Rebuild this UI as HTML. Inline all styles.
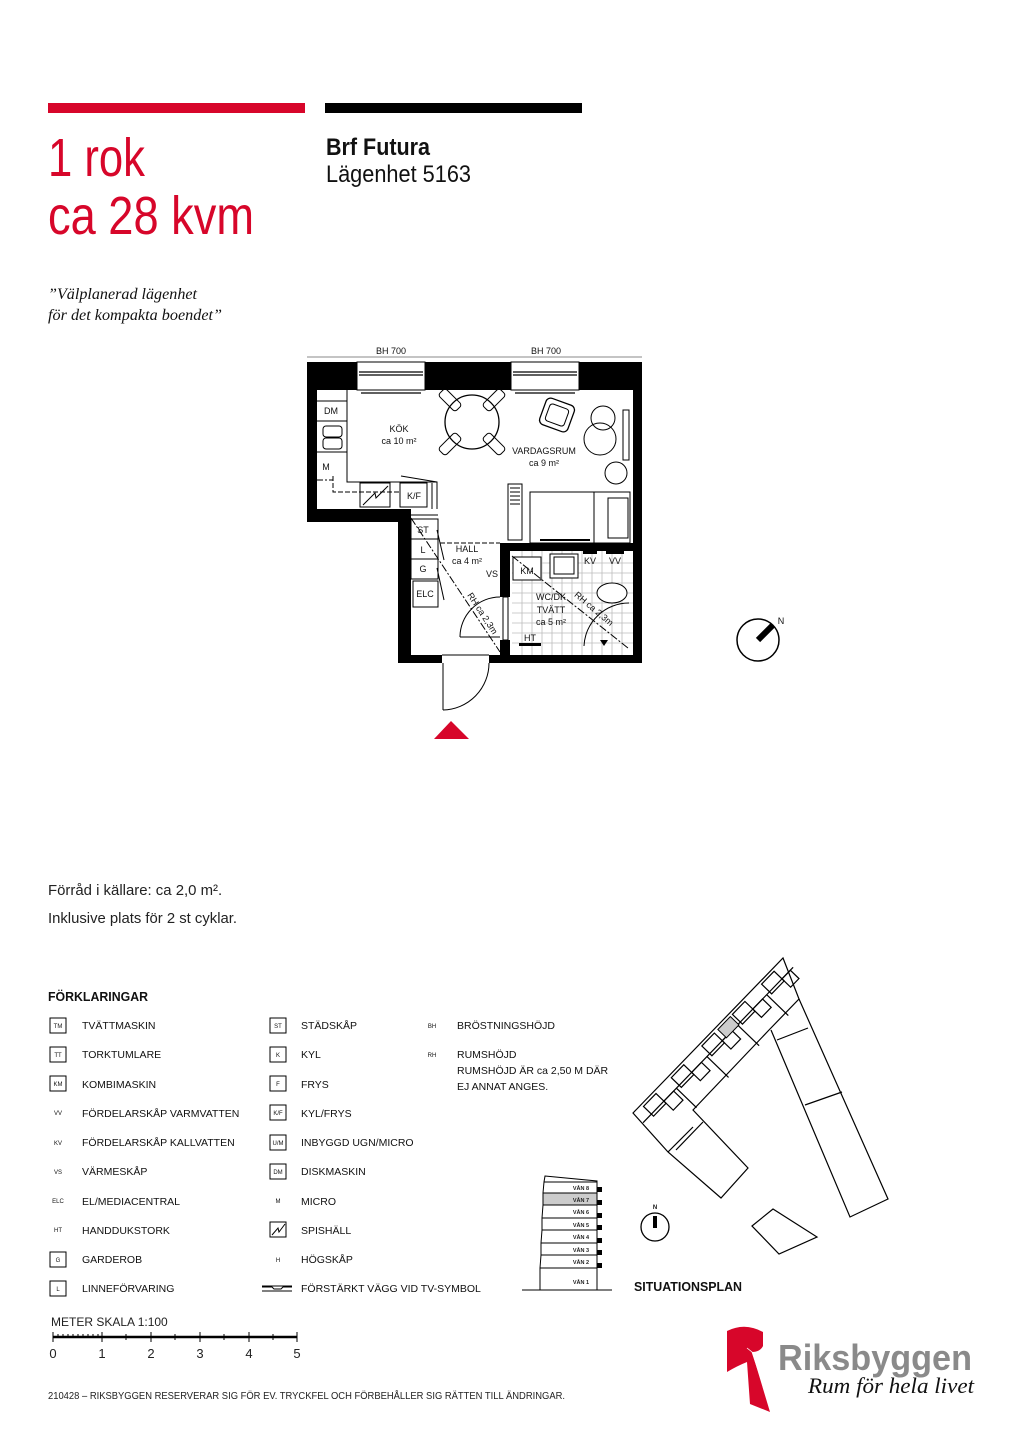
<!DOCTYPE html>
<html><head><meta charset="utf-8"><style>
html,body{margin:0;padding:0;background:#fff;}
svg{display:block;}
.t{font-family:"Liberation Sans",sans-serif;}
.s{font-family:"Liberation Sans",sans-serif;font-size:10.5px;fill:#111;}
.tiny{font-family:"Liberation Sans",sans-serif;font-size:6px;fill:#111;text-anchor:middle;}
.fp{font-family:"Liberation Sans",sans-serif;font-size:9px;fill:#111;text-anchor:middle;}
</style></head><body>
<svg width="1024" height="1448" viewBox="0 0 1024 1448" xmlns="http://www.w3.org/2000/svg">
<rect width="1024" height="1448" fill="#fff"/>
<rect x="48" y="103" width="257" height="10" fill="#d7062a"/>
<rect x="325" y="103" width="257" height="10" fill="#000"/>
<text x="48" y="176" class="t" font-size="54" fill="#d7062a" textLength="97" lengthAdjust="spacingAndGlyphs">1 rok</text>
<text x="48" y="234" class="t" font-size="54" fill="#d7062a" textLength="206" lengthAdjust="spacingAndGlyphs">ca 28 kvm</text>
<text x="326" y="155" class="t" font-size="24" font-weight="bold" fill="#111" textLength="104" lengthAdjust="spacingAndGlyphs">Brf Futura</text>
<text x="326" y="182" class="t" font-size="24" fill="#111" textLength="145" lengthAdjust="spacingAndGlyphs">Lägenhet 5163</text>
<text x="48" y="299" font-family="Liberation Serif,serif" font-style="italic" font-size="16" fill="#111" textLength="149" lengthAdjust="spacingAndGlyphs">”Välplanerad lägenhet</text>
<text x="48" y="320" font-family="Liberation Serif,serif" font-style="italic" font-size="16" fill="#111" textLength="174" lengthAdjust="spacingAndGlyphs">för det kompakta boendet”</text>

<line x1="307" y1="357" x2="642" y2="357" stroke="#888" stroke-width="1"/>
<text x="391" y="354" class="fp">BH 700</text>
<text x="546" y="354" class="fp">BH 700</text>
<path d="M307,362 H642 V663 H398 V522 H307 Z M317,390 H633 V655 H411 V509 H317 Z" fill="#000" fill-rule="evenodd"/>
<g fill="#fff" stroke="#000" stroke-width="1">
<rect x="357" y="362" width="68" height="28"/><rect x="511" y="362" width="68" height="28"/>
</g>
<g stroke="#000" stroke-width="1.2">
<line x1="359" y1="372" x2="423" y2="372"/><line x1="359" y1="375" x2="423" y2="375"/>
<line x1="513" y1="372" x2="577" y2="372"/><line x1="513" y1="375" x2="577" y2="375"/>
<line x1="361" y1="393" x2="421" y2="393"/><line x1="515" y1="393" x2="575" y2="393"/>
</g>
<rect x="442" y="654" width="47" height="10" fill="#fff"/>
<g stroke="#000" stroke-width="1" fill="none">
<line x1="442" y1="655" x2="489" y2="655"/>
<line x1="443" y1="663" x2="443" y2="710"/>
<path d="M443,710 A47,47 0 0 0 489,663"/>
<polyline points="347,390 347,482 437,482 437,509"/>
<line x1="317" y1="401" x2="347" y2="401"/><line x1="317" y1="421" x2="347" y2="421"/><line x1="317" y1="452" x2="347" y2="452"/>
<rect x="323" y="426" width="19" height="11" rx="3"/><rect x="323" y="438" width="19" height="11" rx="3"/>
<polyline points="333,476 333,492 400,492" stroke-dasharray="5,2"/>
<line x1="317" y1="480" x2="333" y2="480" stroke-dasharray="6,2,2,2"/>
<rect x="360" y="483" width="30" height="24"/>
<path d="M363,505 L375,493 L376,498 L388,486"/>
<rect x="400" y="483" width="27" height="24"/>
<line x1="401" y1="476" x2="437" y2="482"/>
<line x1="432" y1="483" x2="432" y2="509"/>
<circle cx="472" cy="422" r="27" stroke-width="1.3"/>
<g transform="translate(450,400) rotate(45)"><rect x="-12" y="-5" width="24" height="10" rx="3"/></g>
<g transform="translate(494,400) rotate(-45)"><rect x="-12" y="-5" width="24" height="10" rx="3"/></g>
<g transform="translate(450,444) rotate(-45)"><rect x="-12" y="-5" width="24" height="10" rx="3"/></g>
<g transform="translate(494,444) rotate(45)"><rect x="-12" y="-5" width="24" height="10" rx="3"/></g>
<g transform="translate(557,415) rotate(20)"><rect x="-15" y="-14" width="30" height="28" rx="5" stroke-width="1.3"/><rect x="-10" y="-9" width="20" height="18" rx="3"/></g>
<circle cx="603" cy="418" r="12"/><circle cx="600" cy="439" r="16"/><circle cx="616" cy="473" r="11"/>
<rect x="623" y="410" width="6" height="50"/>
<rect x="530" y="492" width="100" height="51"/>
<line x1="594" y1="492" x2="594" y2="543"/>
<rect x="608" y="498" width="20" height="40"/>
<line x1="540" y1="540" x2="590" y2="540" stroke-width="2"/>
<rect x="508" y="484" width="14" height="56"/>
<line x1="510" y1="488" x2="520" y2="488"/><line x1="510" y1="492" x2="520" y2="492"/><line x1="510" y1="496" x2="520" y2="496"/><line x1="510" y1="500" x2="520" y2="500"/><line x1="510" y1="504" x2="520" y2="504"/>
<rect x="411" y="519" width="27" height="20"/><rect x="411" y="539" width="27" height="20"/><rect x="411" y="559" width="27" height="20"/>
<rect x="413" y="581" width="25" height="26"/>
<line x1="411" y1="515" x2="438" y2="515"/>
<line x1="440" y1="543" x2="500" y2="543" stroke-dasharray="5,2"/>
<line x1="411" y1="518" x2="500" y2="652" stroke-dasharray="8,2,2,2"/>
<line x1="437" y1="530" x2="444" y2="560"/><line x1="437" y1="568" x2="444" y2="600"/>
<path d="M460,637 A40,40 0 0 1 500,597"/>
<line x1="460" y1="637" x2="500" y2="637"/>
</g>
<rect x="512" y="551" width="121" height="104" fill="#fff"/>
<g stroke="#bbb" stroke-width="0.8">
<line x1="512" y1="563" x2="633" y2="563"/><line x1="512" y1="573" x2="633" y2="573"/><line x1="512" y1="583" x2="633" y2="583"/><line x1="512" y1="593" x2="633" y2="593"/><line x1="512" y1="603" x2="633" y2="603"/><line x1="512" y1="613" x2="633" y2="613"/><line x1="512" y1="623" x2="633" y2="623"/><line x1="512" y1="633" x2="633" y2="633"/><line x1="512" y1="643" x2="633" y2="643"/>
<line x1="522" y1="551" x2="522" y2="655"/><line x1="532" y1="551" x2="532" y2="655"/><line x1="542" y1="551" x2="542" y2="655"/><line x1="552" y1="551" x2="552" y2="655"/><line x1="562" y1="551" x2="562" y2="655"/><line x1="572" y1="551" x2="572" y2="655"/><line x1="582" y1="551" x2="582" y2="655"/><line x1="592" y1="551" x2="592" y2="655"/><line x1="602" y1="551" x2="602" y2="655"/><line x1="612" y1="551" x2="612" y2="655"/><line x1="622" y1="551" x2="622" y2="655"/>
</g>
<rect x="500" y="543" width="133" height="8" fill="#000"/>
<rect x="500" y="543" width="10" height="54" fill="#000"/>
<rect x="500" y="640" width="10" height="15" fill="#000"/>
<g stroke="#000" stroke-width="1" fill="#fff">
<rect x="503" y="597" width="5" height="43"/>
<rect x="513" y="557" width="28" height="23"/>
<rect x="550" y="554" width="28" height="24"/>
<rect x="554" y="557" width="20" height="17"/>
<ellipse cx="612" cy="593" rx="15" ry="10"/>
</g>
<g stroke="#000" stroke-width="1" fill="none">
<path d="M584,646 A45,45 0 0 1 629,603"/>
<line x1="512" y1="556" x2="628" y2="648" stroke-dasharray="8,2,2,2"/>
</g>
<rect x="583" y="551" width="14" height="3" fill="#000"/><rect x="606" y="551" width="18" height="3" fill="#000"/>
<rect x="519" y="643" width="22" height="3" fill="#000"/>
<path d="M600,640 L608,640 L604,646 Z" fill="#000"/>
<text x="331" y="414" class="fp">DM</text>
<text x="326" y="470" class="fp">M</text>
<text x="414" y="499" class="fp">K/F</text>
<text x="399" y="432" class="fp">KÖK</text>
<text x="399" y="444" class="fp">ca 10 m²</text>
<text x="544" y="454" class="fp">VARDAGSRUM</text>
<text x="544" y="466" class="fp">ca 9 m²</text>
<text x="423" y="533" class="fp">ST</text>
<text x="423" y="553" class="fp">L</text>
<text x="423" y="572" class="fp">G</text>
<text x="425" y="597" class="fp">ELC</text>
<text x="467" y="552" class="fp">HALL</text>
<text x="467" y="564" class="fp">ca 4 m²</text>
<text x="492" y="577" class="fp">VS</text>
<text x="527" y="574" class="fp">KM</text>
<text x="590" y="564" class="fp">KV</text>
<text x="615" y="564" class="fp">VV</text>
<text x="551" y="600" class="fp">WC/DK</text>
<text x="551" y="613" class="fp">TVÄTT</text>
<text x="551" y="625" class="fp">ca 5 m²</text>
<text x="530" y="641" class="fp">HT</text>
<text x="480" y="615" class="fp" transform="rotate(57 480 615)">RH ca 2,3m</text>
<text x="592" y="611" class="fp" transform="rotate(40 592 611)">RH ca 2,3m</text>
<path d="M434,739 L469,739 L451,721 Z" fill="#d7062a"/>
<circle cx="758" cy="640" r="21" fill="none" stroke="#000" stroke-width="1.5"/>
<line x1="758" y1="640" x2="773" y2="625" stroke="#000" stroke-width="6"/>
<text x="781" y="624" class="fp">N</text>

<text x="48" y="895" class="t" font-size="15" fill="#222" textLength="170" lengthAdjust="spacingAndGlyphs">Förråd i källare: ca 2,0 m²</text><text x="218" y="895" class="t" font-size="15" fill="#222">.</text>
<text x="48" y="923" class="t" font-size="15" fill="#222" textLength="189" lengthAdjust="spacingAndGlyphs">Inklusive plats för 2 st cyklar.</text>

<text x="48" y="1001" class="t" font-size="13" font-weight="bold" fill="#111" textLength="100" lengthAdjust="spacingAndGlyphs">FÖRKLARINGAR</text>
<g fill="none" stroke="#000" stroke-width="1">
<rect x="50" y="1018" width="16" height="15"/><rect x="50" y="1047" width="16" height="15"/><rect x="50" y="1076" width="16" height="15"/>
<rect x="50" y="1252" width="16" height="15"/><rect x="50" y="1281" width="16" height="15"/>
<rect x="270" y="1018" width="16" height="15"/><rect x="270" y="1047" width="16" height="15"/><rect x="270" y="1076" width="16" height="15"/><rect x="270" y="1105" width="16" height="15"/><rect x="270" y="1135" width="16" height="15"/><rect x="270" y="1164" width="16" height="15"/><rect x="270" y="1222" width="16" height="15"/>
<path d="M272,1235 L278,1228 L279,1232 L285,1224"/>
<line x1="262" y1="1286" x2="292" y2="1286"/><line x1="262" y1="1291" x2="292" y2="1291"/>
</g>
<path d="M262,1287 H272 L274,1289 H281 L283,1287 H292" stroke="#000" fill="none"/>
<g class="tiny">
<text x="58" y="1028">TM</text><text x="58" y="1057">TT</text><text x="58" y="1086">KM</text>
<text x="58" y="1115">VV</text><text x="58" y="1145">KV</text><text x="58" y="1174">VS</text><text x="58" y="1203">ELC</text><text x="58" y="1232">HT</text>
<text x="58" y="1262">G</text><text x="58" y="1291">L</text>
<text x="278" y="1028">ST</text><text x="278" y="1057">K</text><text x="278" y="1086">F</text><text x="278" y="1115">K/F</text><text x="278" y="1145">U/M</text><text x="278" y="1174">DM</text><text x="278" y="1203">M</text><text x="278" y="1262">H</text>
<text x="432" y="1028">BH</text><text x="432" y="1057">RH</text>
</g>
<g class="s">
<text x="82" y="1029">TVÄTTMASKIN</text>
<text x="82" y="1058">TORKTUMLARE</text>
<text x="82" y="1088">KOMBIMASKIN</text>
<text x="82" y="1117">FÖRDELARSKÅP VARMVATTEN</text>
<text x="82" y="1146">FÖRDELARSKÅP KALLVATTEN</text>
<text x="82" y="1175">VÄRMESKÅP</text>
<text x="82" y="1205">EL/MEDIACENTRAL</text>
<text x="82" y="1234">HANDDUKSTORK</text>
<text x="82" y="1263">GARDEROB</text>
<text x="82" y="1292">LINNEFÖRVARING</text>
<text x="301" y="1029">STÄDSKÅP</text>
<text x="301" y="1058">KYL</text>
<text x="301" y="1088">FRYS</text>
<text x="301" y="1117">KYL/FRYS</text>
<text x="301" y="1146">INBYGGD UGN/MICRO</text>
<text x="301" y="1175">DISKMASKIN</text>
<text x="301" y="1205">MICRO</text>
<text x="301" y="1234">SPISHÄLL</text>
<text x="301" y="1263">HÖGSKÅP</text>
<text x="301" y="1292">FÖRSTÄRKT VÄGG VID TV-SYMBOL</text>
<text x="457" y="1029">BRÖSTNINGSHÖJD</text>
<text x="457" y="1058">RUMSHÖJD</text>
<text x="457" y="1074">RUMSHÖJD ÄR ca 2,50 M DÄR</text>
<text x="457" y="1090">EJ ANNAT ANGES.</text>
</g>

<text x="51" y="1326" class="t" font-size="12" fill="#222">METER  SKALA 1:100</text>
<g stroke="#000" stroke-width="1">
<line x1="53" y1="1337" x2="297" y2="1337" stroke-width="2.5"/>
<line x1="53" y1="1332" x2="53" y2="1342"/><line x1="102" y1="1332" x2="102" y2="1342"/><line x1="151" y1="1332" x2="151" y2="1342"/><line x1="200" y1="1332" x2="200" y2="1342"/><line x1="249" y1="1332" x2="249" y2="1342"/><line x1="297" y1="1332" x2="297" y2="1342"/>
<line x1="126" y1="1334" x2="126" y2="1340"/><line x1="175" y1="1334" x2="175" y2="1340"/><line x1="224" y1="1334" x2="224" y2="1340"/><line x1="273" y1="1334" x2="273" y2="1340"/>
<line x1="58" y1="1334" x2="58" y2="1337"/><line x1="63" y1="1334" x2="63" y2="1337"/><line x1="68" y1="1334" x2="68" y2="1337"/><line x1="73" y1="1334" x2="73" y2="1337"/><line x1="78" y1="1334" x2="78" y2="1337"/><line x1="83" y1="1334" x2="83" y2="1337"/><line x1="88" y1="1334" x2="88" y2="1337"/><line x1="93" y1="1334" x2="93" y2="1337"/><line x1="98" y1="1334" x2="98" y2="1337"/>
</g>
<g class="t" font-size="13" fill="#222" text-anchor="middle">
<text x="53" y="1358">0</text><text x="102" y="1358">1</text><text x="151" y="1358">2</text><text x="200" y="1358">3</text><text x="249" y="1358">4</text><text x="297" y="1358">5</text>
</g>
<text x="48" y="1399" class="t" font-size="10" fill="#222" textLength="517" lengthAdjust="spacingAndGlyphs">210428 – RIKSBYGGEN RESERVERAR SIG FÖR EV. TRYCKFEL OCH FÖRBEHÅLLER SIG RÄTTEN TILL ÄNDRINGAR.</text>

<g stroke="#000" stroke-width="1" fill="none">
<line x1="522" y1="1290" x2="612" y2="1290"/>
<rect x="543" y="1193" width="54" height="12" fill="#ccc"/>
<path d="M545,1176 L597,1181 V1290 H540 V1268 L541,1255 L541,1243 L542,1230 L542,1218 L543,1205 L543,1193 L544,1182 Z"/>
<line x1="544" y1="1182" x2="597" y2="1182"/><line x1="543" y1="1193" x2="597" y2="1193"/><line x1="543" y1="1205" x2="597" y2="1205"/>
<line x1="542" y1="1218" x2="597" y2="1218"/><line x1="542" y1="1230" x2="597" y2="1230"/><line x1="541" y1="1243" x2="597" y2="1243"/>
<line x1="541" y1="1255" x2="597" y2="1255"/><line x1="540" y1="1268" x2="597" y2="1268"/>
</g>
<g fill="#000">
<rect x="597" y="1187" width="5" height="5"/><rect x="597" y="1200" width="5" height="5"/><rect x="597" y="1213" width="5" height="5"/><rect x="597" y="1225" width="5" height="5"/><rect x="597" y="1238" width="5" height="5"/><rect x="597" y="1250" width="5" height="5"/><rect x="597" y="1263" width="5" height="5"/>
</g>
<g font-family="Liberation Sans,sans-serif" font-size="5.5" font-weight="bold" fill="#222" text-anchor="middle">
<text x="581" y="1190">VÅN 8</text><text x="581" y="1202">VÅN 7</text><text x="581" y="1214">VÅN 6</text><text x="581" y="1227">VÅN 5</text><text x="581" y="1239">VÅN 4</text><text x="581" y="1252">VÅN 3</text><text x="581" y="1264">VÅN 2</text><text x="581" y="1284">VÅN 1</text>
</g>
<circle cx="655" cy="1227" r="14" fill="none" stroke="#000" stroke-width="1.3"/>
<rect x="653" y="1216" width="4" height="12" fill="#000"/>
<text x="655" y="1209" class="tiny" font-weight="bold">N</text>
<text x="634" y="1291" class="t" font-size="13" font-weight="bold" fill="#111" textLength="108" lengthAdjust="spacingAndGlyphs">SITUATIONSPLAN</text>

<g fill="none" stroke="#000" stroke-width="1.2">
<path d="M633,1113 L783,958 L799,999 L769,1030 L693,1110 L748,1168 L721,1198 L668,1152 Z"/>
<path d="M799,999 L888,1199 L850,1217 L771,1030"/>
<line x1="777" y1="1040" x2="808" y2="1028"/><line x1="805" y1="1105" x2="842" y2="1092"/>
<line x1="668" y1="1152" x2="693" y2="1127"/>
<line x1="676" y1="1150" x2="703" y2="1122"/>
<path d="M752,1226 L773,1209 L817,1237 L779,1254 Z"/>
<g transform="translate(633,1113) rotate(-46)">
<line x1="0" y1="14" x2="216" y2="14"/>
<rect x="12" y="3" width="18" height="14"/><rect x="30" y="14" width="14" height="13"/>
<rect x="52" y="3" width="18" height="14"/><rect x="70" y="14" width="14" height="12"/>
<rect x="96" y="3" width="18" height="14"/><rect x="114" y="14" width="14" height="12"/>
<rect x="140" y="3" width="18" height="14"/><rect x="158" y="14" width="14" height="12"/>
<rect x="182" y="3" width="18" height="14"/><rect x="200" y="14" width="12" height="12"/>
<line x1="48" y1="14" x2="48" y2="42"/><line x1="92" y1="14" x2="92" y2="44"/><line x1="136" y1="14" x2="136" y2="44"/><line x1="178" y1="14" x2="178" y2="44"/>
</g>
</g>
<g transform="translate(633,1113) rotate(-46)"><rect x="119" y="3" width="18" height="12" fill="#ccc" stroke="#000" stroke-width="1"/></g>

<path d="M727,1331 Q745,1322 763,1332 L763,1346 Q760,1352 752,1352 L770,1412 L750,1404 L747,1362 Q737,1366 727,1372 Z" fill="#d7062a"/>
<path d="M747,1348 L752,1352 L760,1376" stroke="#fff" stroke-width="0.8" fill="none"/>
<text x="778" y="1370" class="t" font-size="36" font-weight="bold" fill="#8a8a8a" textLength="194" lengthAdjust="spacingAndGlyphs">Riksbyggen</text>
<text x="808" y="1393" font-family="Liberation Serif,serif" font-style="italic" font-size="22" fill="#111" textLength="166" lengthAdjust="spacingAndGlyphs">Rum för hela livet</text>
</svg>
</body></html>
